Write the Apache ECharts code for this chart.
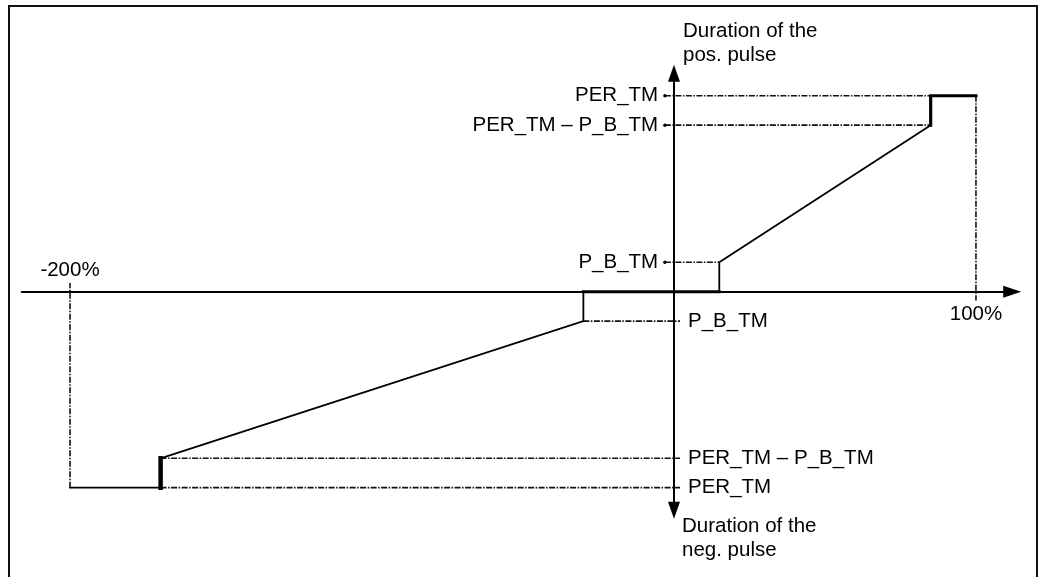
<!DOCTYPE html>
<html><head><meta charset="utf-8">
<script src="https://cdn.jsdelivr.net/npm/echarts@6/dist/echarts.min.js"></script>
<style>html,body{margin:0;padding:0;background:#fff}#c{width:1038px;height:577px}</style>
</head><body><div id="c"></div>
<script>
// ---- data ----
const xTickValues = [-200, 100];
const xTickLabels = ['-200%', '100%'];
const P_B_TM = 15, PER_TM = 100;
const levelNames = ['P_B_TM', 'PER_TM – P_B_TM', 'PER_TM'];
const levelValues = [P_B_TM, PER_TM - P_B_TM, PER_TM];
const posBreaks = [15, 85, 100];     // dead band end, saturation start, full scale (pos.)
const negBreaks = [-30, -170, -200]; // dead band end, saturation start, full scale (neg.)
const axisTitles = ['Duration of the\npos. pulse', 'Duration of the\nneg. pulse'];

// ---- layout / style constants ----
const FONT = "'Liberation Sans', Arial, Helvetica, sans-serif";
const FS = 20.5;
const TICK = 4.5, LEFT_STUB = -3, RIGHT_STUB = 2;
const DASH = [6, 1.5, 1.5, 1.5];

function solid(data, width) {
  return { type: 'line', data: data, symbol: 'none', silent: true, z: 4,
    lineStyle: { color: '#000', width: width, cap: 'square', join: 'miter' } };
}
function dashed(data) {
  return { type: 'line', data: data, symbol: 'none', showSymbol: true, silent: true, z: 3,
    lineStyle: { color: '#111', width: 1.6, type: DASH } };
}
function labelPt(pt, text, pos, dist, dot) {
  return { value: pt, symbol: 'circle', symbolSize: dot ? 3.5 : 0,
    itemStyle: { color: '#000' },
    label: { show: true, position: pos, distance: dist, formatter: text,
      color: '#000', fontSize: FS, fontFamily: FONT } };
}

const posCurveX = [posBreaks[0], posBreaks[1], posBreaks[1]];
const negCurveX = [negBreaks[0], negBreaks[1], negBreaks[1]];

const series = [
  solid([[negBreaks[0], 0], [posBreaks[0], 0]], 3),
  solid([[posBreaks[0], 0], [posBreaks[0], P_B_TM], [posBreaks[1], PER_TM - P_B_TM]], 1.8),
  solid([[posBreaks[1], PER_TM - P_B_TM], [posBreaks[1], PER_TM], [posBreaks[2], PER_TM]], 3.2),
  solid([[negBreaks[0], 0], [negBreaks[0], -P_B_TM], [negBreaks[1], -(PER_TM - P_B_TM)]], 1.8),
  solid([[negBreaks[1], -(PER_TM - P_B_TM)], [negBreaks[1], -PER_TM]], 4.5),
  solid([[negBreaks[1], -PER_TM], [negBreaks[2], -PER_TM]], 1.8)
];
levelValues.forEach(function (v, i) {
  series.push(dashed([labelPt([LEFT_STUB, v], levelNames[i], 'left', 5, true), [posCurveX[i], v]]));
  series.push(dashed([[negCurveX[i], -v], labelPt([RIGHT_STUB, -v], levelNames[i], 'right', 8, false)]));
});
// full-scale markers on the x axis
series.push(dashed([[xTickValues[1], PER_TM], labelPt([xTickValues[1], -TICK], xTickLabels[1], 'bottom', 3, false)]));
series.push(dashed([[xTickValues[0], -PER_TM], labelPt([xTickValues[0], TICK], xTickLabels[0], 'top', 2, false)]));

const chart = echarts.init(document.getElementById('c'), null, { renderer: 'canvas' });
chart.setOption({
  animation: false,
  backgroundColor: '#fff',
  grid: { left: 21.7, right: 25.8, top: 73.2, bottom: 66.8, containLabel: false },
  xAxis: { type: 'value', min: -216, max: 112,
    axisLine: { onZero: true, symbol: ['none', 'triangle'], symbolSize: [12, 18],
      lineStyle: { color: '#000', width: 2 } },
    axisTick: { show: false }, axisLabel: { show: false }, splitLine: { show: false } },
  yAxis: { type: 'value', min: -111.5, max: 111.5,
    axisLine: { onZero: true, symbol: ['triangle', 'triangle'], symbolSize: [12, 17],
      lineStyle: { color: '#000', width: 2 } },
    axisTick: { show: false }, axisLabel: { show: false }, splitLine: { show: false } },
  title: [
    { text: axisTitles[0], left: 683, top: 19, padding: 0,
      textStyle: { fontSize: FS, fontWeight: 'normal', lineHeight: 24, color: '#000', fontFamily: FONT } },
    { text: axisTitles[1], left: 682, top: 514, padding: 0,
      textStyle: { fontSize: FS, fontWeight: 'normal', lineHeight: 24, color: '#000', fontFamily: FONT } }
  ],
  graphic: [{ type: 'rect', silent: true, z: 100,
    shape: { x: 9, y: 6, width: 1028, height: 640 },
    style: { fill: 'none', stroke: '#111', lineWidth: 2 } }],
  series: series
});
</script></body></html>
